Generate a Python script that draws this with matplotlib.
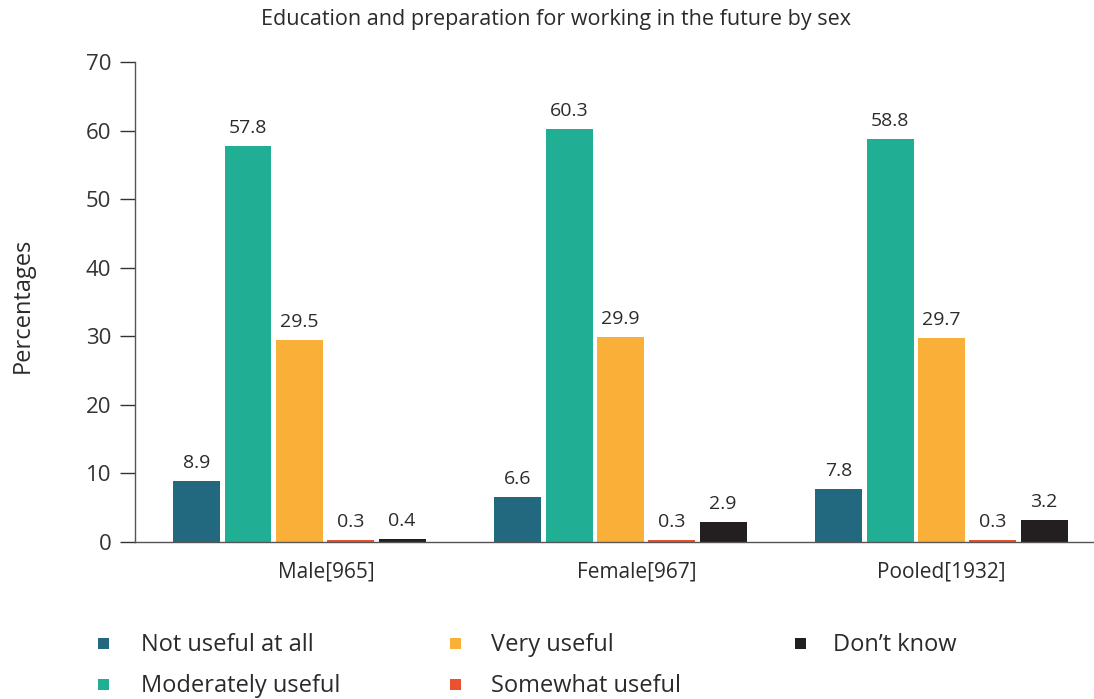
import matplotlib
matplotlib.use("Agg")
import matplotlib.pyplot as plt
from matplotlib.patches import Rectangle
import numpy as np

plt.rcParams['font.family'] = ['Open Sans', 'DejaVu Sans']

groups = ["Male[965]", "Female[967]", "Pooled[1932]"]
responses = ["Not useful at all", "Moderately useful", "Very useful",
             "Somewhat useful", "Don\u2019t know"]
not_useful = [8.9, 6.6, 7.8]
moderately_useful = [57.8, 60.3, 58.8]
very_useful = [29.5, 29.9, 29.7]
somewhat_useful = [0.3, 0.3, 0.3]
dont_know = [0.4, 2.9, 3.2]
series = [not_useful, moderately_useful, very_useful, somewhat_useful, dont_know]
colors = ["#22687F", "#20AF94", "#F9AF38", "#E9512F", "#231F20"]
title = "Education and preparation for working in the future by sex"
y_label = "Percentages"
y_ticks = [0, 10, 20, 30, 40, 50, 60, 70]

W, H = 1094, 699
fig = plt.figure(figsize=(W / 100, H / 100), dpi=100)
ax = fig.add_axes([0.1234, 0.2246, 0.8766, 0.6867])

x = np.arange(len(groups))
step = 0.16
width = 0.146
text_color = "#2b2b2b"
for i, (vals, col) in enumerate(zip(series, colors)):
    pos = x + (i - 2) * step
    bars = ax.bar(pos, vals, width=width, color=col, zorder=2)
    for b, v in zip(bars, vals):
        ax.text(b.get_x() + b.get_width() / 2, v + 1.3, f"{v:.1f}",
                ha="center", va="bottom", fontsize=14, color=text_color)

ax.set_xlim(-0.512, 2.475)
ax.set_ylim(0, 70)
ax.set_yticks(y_ticks)
ax.tick_params(axis="y", length=11, width=1, colors="#333333", labelsize=16, pad=6)
ax.set_xticks(x + np.array([0.085, 0.05, 0.0]))
ax.set_xticklabels(groups)
ax.tick_params(axis="x", length=0, labelsize=15, labelcolor=text_color, pad=14)
for s in ["top", "right"]:
    ax.spines[s].set_visible(False)
for s in ["left", "bottom"]:
    ax.spines[s].set_color("#555555")
    ax.spines[s].set_linewidth(1)

fig.text(0.508, 0.972, title, ha="center", va="center", fontsize=15.5, color=text_color)
fig.text(0.021, 0.563, y_label, rotation=90, ha="center", va="center",
         fontsize=17, color=text_color)

# legend laid out in three columns, filled column by column
col_marker_x = [103, 455, 800]
col_text_x = [141, 491, 833]
row_y = [643, 684]
sq = 11
for k, (lab, col) in enumerate(zip(responses, colors)):
    c, r = divmod(k, 2)
    mx, my = col_marker_x[c], row_y[r]
    fig.add_artist(Rectangle(((mx - sq / 2) / W, 1 - (my + sq / 2) / H),
                             sq / W, sq / H, transform=fig.transFigure,
                             facecolor=col, edgecolor="none"))
    fig.text(col_text_x[c] / W, 1 - (my + 2) / H, lab, ha="left", va="center",
             fontsize=17, color=text_color)

fig.savefig("out.png", dpi=100)
